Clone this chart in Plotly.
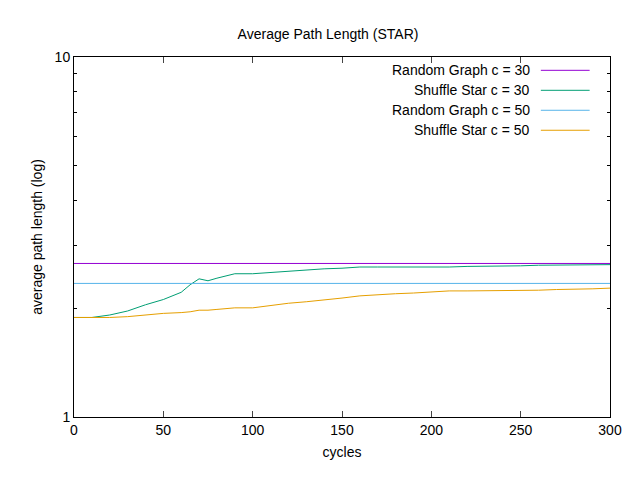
import plotly.graph_objects as go

cycles = [0,10,20,30,40,50,60,65,70,75,80,90,100,110,120,130,140,150,160,170,180,190,200,210,220,230,240,250,260,270,280,290,300]
shuffle30 = [1.89,1.89,1.92,1.97,2.05,2.12,2.22,2.33,2.42,2.39,2.43,2.50,2.50,2.52,2.55,2.57,2.58,2.59,2.61,2.61,2.61,2.61,2.60,2.61,2.62,2.62,2.63,2.63,2.64,2.64,2.64,2.64,2.65]
shuffle50 = [1.89,1.89,1.89,1.90,1.92,1.94,1.95,1.96,1.98,1.98,1.99,2.01,2.01,2.04,2.07,2.09,2.11,2.14,2.17,2.19,2.20,2.21,2.23,2.24,2.24,2.24,2.24,2.25,2.25,2.26,2.26,2.27,2.28]
random30 = 2.67
random50 = 2.35
names = ["Random Graph c = 30", "Shuffle Star c = 30", "Random Graph c = 50", "Shuffle Star c = 50"]
colors = ["#9400d3", "#009e73", "#56b4e9", "#e69f00"]

fig = go.Figure()
ys = [[random30]*len(cycles), shuffle30, [random50]*len(cycles), shuffle50]
for n, y, c in zip(names, ys, colors):
    fig.add_trace(go.Scatter(x=cycles, y=y, mode="lines", name=n, line=dict(color=c, width=1), showlegend=False))

for i, (n, c) in enumerate(zip(names, colors)):
    yp = 0.963 - i*0.0555
    fig.add_annotation(x=0.855, y=yp, xref="paper", yref="paper", text=n, showarrow=False,
                       xanchor="right", yanchor="middle", font=dict(size=14, color="black"))
    fig.add_shape(type="line", xref="paper", yref="paper", x0=0.871, x1=0.962, y0=yp, y1=yp,
                  line=dict(color=c, width=1))

fig.update_layout(
    width=640, height=480, paper_bgcolor="white", plot_bgcolor="white",
    margin=dict(l=66, r=38, t=49, b=71, autoexpand=False),
    font=dict(family="Liberation Sans, Arial", size=14, color="black"),
    title=dict(text="Average Path Length (STAR)", x=0.5, xanchor="center", y=0.955, font=dict(size=14)),
)
fig.update_xaxes(range=[0, 300], tickvals=[0,50,100,150,200,250,300], ticks="inside", ticklen=6,
                 mirror="allticks", showline=True, linecolor="black", linewidth=1, showgrid=False,
                 zeroline=False, automargin=False, tickfont=dict(size=14),
                 title=dict(text="cycles", standoff=10, font=dict(size=14)))
fig.update_yaxes(type="log", range=[0, 1], tickvals=[1, 10], ticktext=["1", "10"], ticks="inside", ticklen=6,
                 mirror="allticks", showline=True, linecolor="black", linewidth=1, showgrid=False,
                 zeroline=False, automargin=False, tickfont=dict(size=14),
                 title=dict(text="average path length (log)", standoff=8, font=dict(size=14)),
                 minor=dict(tickvals=[2,3,4,5,6,7,8,9], ticks="inside", ticklen=3, tickcolor="black", showgrid=False))
fig.write_html("out.html")
